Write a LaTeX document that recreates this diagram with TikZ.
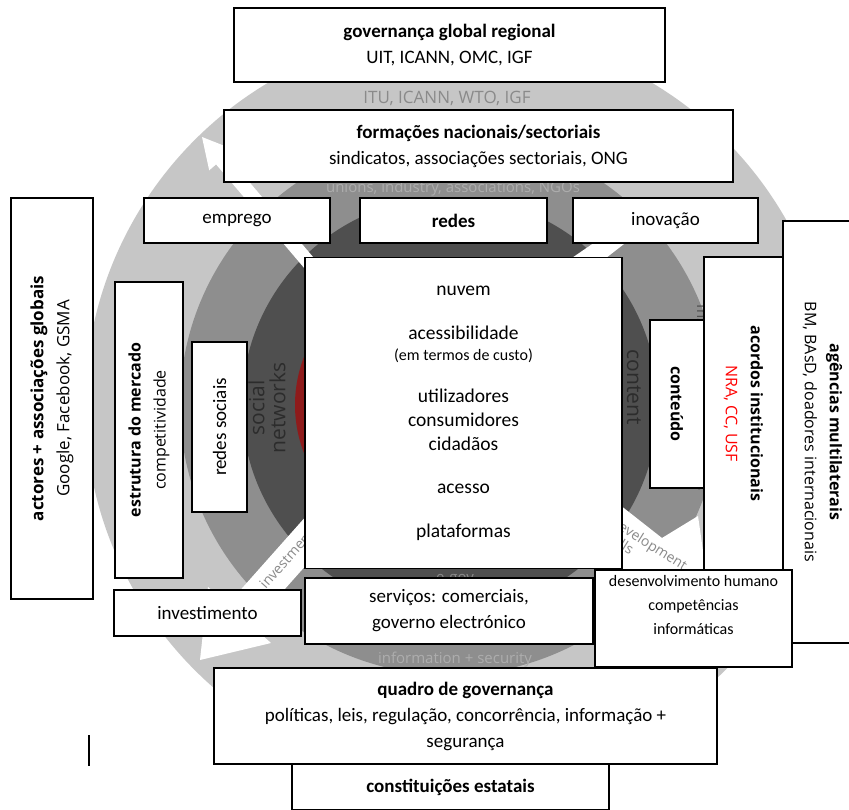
\documentclass[tikz,border=0pt]{standalone}
\usepackage{fontspec}
\setmainfont{Carlito}
\newfontfamily\opensans{Open Sans}
\definecolor{ringlight}{HTML}{C6C6C6}
\definecolor{ringmid}{HTML}{8E8E8E}
\definecolor{ringdark}{HTML}{4F4F4F}
\definecolor{ringcore}{HTML}{8E1B1B}
\definecolor{greytxt}{HTML}{8A8A8A}
\definecolor{paletxt}{HTML}{ADADAD}
\definecolor{deeptxt}{HTML}{2C2C2C}

\begin{document}
\begin{tikzpicture}[x=1pt,y=-1pt]
\pgfmathsetmacro{\hubX}{450}
\pgfmathsetmacro{\hubY}{405}

\tikzstyle{box}=[draw=black,line width=1.8pt,fill=white,inner sep=0pt,outer sep=0pt,align=center]
\tikzstyle{bigtxt}=[font=\fontsize{19}{26}\selectfont]
\tikzstyle{sidetxt}=[font=\opensans\fontsize{16}{25}\selectfont]
\tikzstyle{ringlbl}=[inner sep=0pt,font=\opensans\fontsize{15}{18}\selectfont]

\useasboundingbox (0,0) rectangle (849,809);
\fill[white] (0,0) rectangle (849,809);

% wheel in the background
\coordinate (hub) at (\hubX,\hubY);
\fill[ringlight] (\hubX+10,\hubY) circle[radius=375];
\fill[ringmid] (hub) circle[radius=270];
\fill[ringdark] (hub) circle[radius=208];
\fill[ringcore] (hub) ellipse[x radius=155,y radius=143];
\fill[white] (202,137) -- (233.6,149.5) -- (226.7,155.4) -- (320.3,265.5) -- (309.7,274.5) -- (216.1,164.4) -- (209.2,170.3) -- cycle;
\fill[white] (200,660) -- (271,643) -- (252,626) -- (332,536) -- (308,514) -- (228,604) -- (208,587) -- cycle;
\fill[white] (620,505) -- (662,538) -- (698,516) -- (706,572) -- (620,572) -- cycle;
\fill[white] (566,262) -- (604,236) -- (624,244) -- (588,272) -- cycle;

\node[ringlbl,text=greytxt,font=\opensans\fontsize{17}{20}\selectfont] (litu) at (447,98) {ITU, ICANN, WTO, IGF};
\node[ringlbl,text=paletxt] (luni) at (453,189) {unions, industry, associations, NGOs};
\node[ringlbl,text=deeptxt,rotate=90,align=center,font=\opensans\fontsize{21}{21}\selectfont] (lsoc) at (267,408) {social\\networks};
\node[ringlbl,text=deeptxt,rotate=-90,font=\opensans\fontsize{21}{24}\selectfont] (lcnt) at (634,387) {content};
\node[ringlbl,text=ringdark,rotate=-90] (linst) at (701,398) {Institutional arrangements};
\node[ringlbl,text=greytxt,anchor=base] (lgov) at (455,582) {e-gov};
\node[ringlbl,text=paletxt,anchor=base] (linf) at (455,663) {information + security};
\node[ringlbl,text=greytxt,anchor=west,rotate=48,font=\opensans\fontsize{14}{16}\selectfont] (linv) at (262,586) {investment};
\node[ringlbl,text=greytxt,anchor=north west,rotate=-32,align=left,font=\opensans\fontsize{14}{15}\selectfont] (ldev) at (616,516) {development\\Skills};

% boxes
\node[box,bigtxt,minimum width=431pt,minimum height=74pt] (ggr) at (449.5,45) {\textbf{governança global regional}\\UIT, ICANN, OMC, IGF};
\node[box,bigtxt,minimum width=509pt,minimum height=72pt] (fns) at (478.5,146) {\textbf{formações nacionais/sectoriais}\\sindicatos, associações sectoriais, ONG};
\node[box,bigtxt,minimum width=186pt,minimum height=45pt] (emp) at (237,220.5) {emprego};
\node[box,bigtxt,minimum width=187pt,minimum height=45pt] (net) at (453.5,220.5) {\textbf{redes}};
\node[box,bigtxt,minimum width=185pt,minimum height=45pt] (inov) at (665.5,220.5) {inovação};
\node[box,rotate=90,minimum width=401pt,minimum height=82pt,font=\opensans\fontsize{17}{26}\selectfont] (act) at (52,398.5) {\textbf{actores + associações globais}\\Google, Facebook, GSMA};
\node[box,sidetxt,rotate=90,minimum width=296pt,minimum height=68pt] (mkt) at (149,430) {\textbf{estrutura do mercado}\\competitividade};
\node[box,bigtxt,rotate=90,minimum width=170pt,minimum height=55pt] (soc) at (219.5,427) {redes sociais};
\node[box,minimum width=317pt,minimum height=311pt,font=\fontsize{19.5}{24}\selectfont] (core) at (463.5,413)
  {nuvem\\[20pt]acessibilidade\\[-3pt]{\fontsize{16}{18}\selectfont (em termos de custo)}\\[18pt]utilizadores\\consumidores\\cidadãos\\[19pt]acesso\\[20pt]plataformas};
\node[box,sidetxt,rotate=-90,minimum width=168pt,minimum height=54pt] (cnt) at (677,404) {\textbf{conteúdo}};
\node[box,sidetxt,rotate=-90,minimum width=313pt,minimum height=79pt] (inst) at (743.5,413.5) {\textbf{acordos institucionais}\\\textcolor{red}{NRA, CC, USF}};
\node[box,sidetxt,rotate=-90,minimum width=422pt,minimum height=79pt] (agn) at (822.5,432) {\textbf{agências multilaterais}\\BM, BAsD, doadores internacionais};
\node[box,bigtxt,minimum width=187pt,minimum height=46pt] (inv) at (207.5,613) {investimento};
\node[box,bigtxt,minimum width=288pt,minimum height=66pt] (srv) at (449,611) {serviços: comerciais,\\governo electrónico};
\node[box,minimum width=197pt,minimum height=97pt,font=\fontsize{16}{24}\selectfont] (dev) at (693.5,618.5)
  {\begin{minipage}[t][86pt][t]{190pt}\centering desenvolvimento humano\\competências\\informáticas\end{minipage}};
\node[box,bigtxt,minimum width=503pt,minimum height=96pt] (gov) at (465.5,716) {\textbf{quadro de governança}\\políticas, leis, regulação, concorrência, informação +\\segurança};
\node[box,bigtxt,minimum width=317pt,minimum height=46pt] (cst) at (450.5,787) {\textbf{constituições estatais}};

\coordinate (tickA) at (89,735);
\coordinate (tickB) at (89,766);
\draw[line width=1.6pt] (tickA) -- (tickB);
\end{tikzpicture}
\end{document}
